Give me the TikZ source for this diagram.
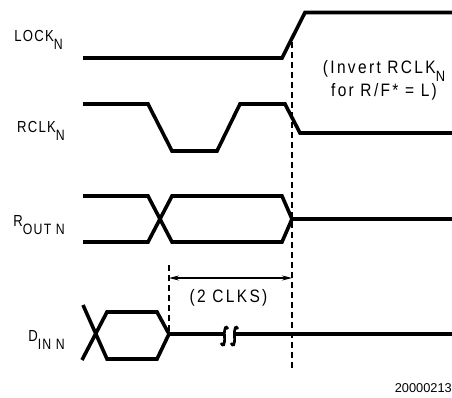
\documentclass[tikz,border=0pt]{standalone}
\usepackage{fontspec}
\setmainfont[FakeStretch=0.82,LetterSpace=8]{Liberation Sans}
\newfontfamily\notefont[FakeStretch=0.86,LetterSpace=13]{Liberation Sans}
\newfontfamily\plainfont{Liberation Sans}
\usetikzlibrary{arrows.meta}
\newcommand{\sig}[2]{#1\raisebox{-8pt}{\fontsize{15}{16}\selectfont #2}}
\begin{document}
\begin{tikzpicture}[x=1pt,y=-1pt,
    wave/.style={line width=3.6pt},
    guide/.style={line width=2pt,dash pattern=on 6pt off 4pt},
    lbl/.style={anchor=base east,inner sep=0pt,font=\fontsize{16}{18}\selectfont},
    note/.style={inner sep=0pt,font=\notefont\fontsize{18}{23}\selectfont}]
          \useasboundingbox (0,0) rectangle (452,398);

          % signal names
          \node[lbl] (lockl) at (63,42) {\sig{LOCK}{N}};
          \node[lbl] (rclkl) at (65,133) {\sig{RCLK}{N}};
          \node[lbl] (routl) at (65,226) {\sig{R}{OUT N}};
          \node[lbl] (dinl) at (65,341) {\sig{D}{IN N}};

          % waveforms
          \draw[wave] (83,58) -- (282,58) -- (305,12.5) -- (452,12.5);
          \draw[wave] (83,104) -- (148,104) -- (172,151) -- (217,151) -- (240,104)
                      -- (285,104) -- (300,133) -- (452,133);
          \draw[wave] (83,196) -- (148,196) -- (172,242) -- (282,242) -- (292,219)
                      -- (282,196) -- (172,196) -- (148,242) -- (83,242);
          \draw[wave] (292,219) -- (452,219);
          \draw[wave] (83,305) -- (107,359) -- (157,359) -- (169,334) -- (157,312)
                      -- (107,312) -- (82,360);
          \draw[wave] (169,334) -- (225,334);
          \draw[wave] (235,334) -- (452,334);

          % break mark
          \draw[line width=2.6pt] (228,329) .. controls (226,325) and (224,327) .. (224.5,336.5)
                      .. controls (225,346) and (223,347) .. (221,343);
          \draw[line width=2.6pt] (238,329) .. controls (236,325) and (234,327) .. (234.5,336.5)
                      .. controls (235,346) and (233,347) .. (231,343);

          % timing guides
          \coordinate (lockt) at (292,42);
          \coordinate (lockb) at (292,370);
          \coordinate (dint) at (169,265);
          \coordinate (dinb) at (169,334);
          \draw[guide] (lockt) -- (lockb);
          \draw[guide] (dint) -- (dinb);
          \coordinate (arl) at (169,278);
          \coordinate (arr) at (292,278);
          \draw[{Stealth[length=10pt,width=5pt]}-{Stealth[length=10pt,width=5pt]},line width=1.1pt] (arl) -- (arr);

          % notes
          \node[note,anchor=base] (clks) at (228.5,302) {(2 CLKS)};
          \node[note,anchor=base,align=center] (inv) at (384,97) {(Invert \sig{RCLK}{N}\\for R/F* = L)};
          \node[anchor=base east,inner sep=0pt,font=\plainfont\fontsize{12.8}{14}\selectfont] (fig) at (452,392) {20000213};
      \end{tikzpicture}
\end{document}
